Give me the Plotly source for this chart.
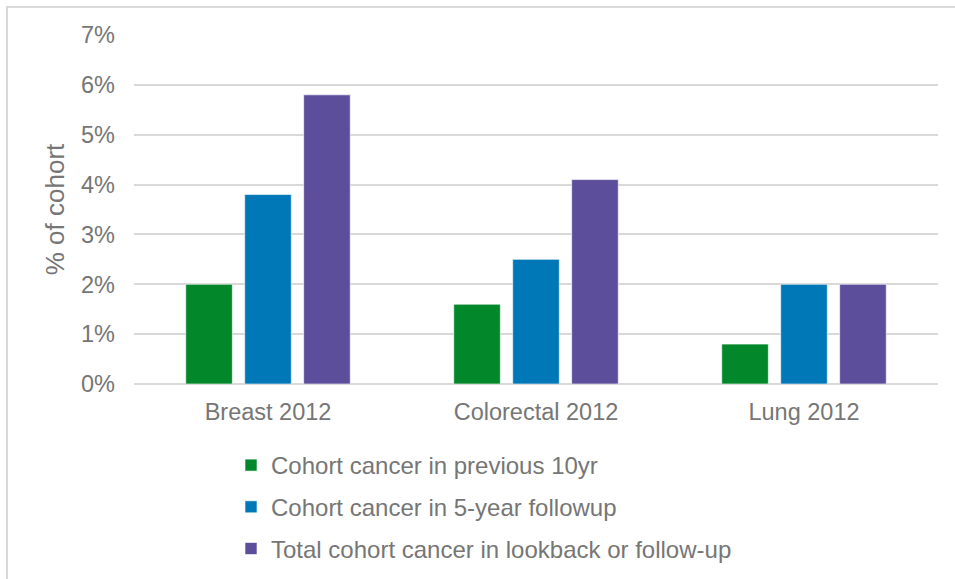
import plotly.graph_objects as go

# Cancer incidence by site, as a share of the cohort
categories = ["Breast 2012", "Colorectal 2012", "Lung 2012"]
prev_10yr = [2.0, 1.6, 0.8]
followup_5yr = [3.8, 2.5, 2.0]
total_lookback_followup = [5.8, 4.1, 2.0]

series_names = [
    "Cohort cancer in previous 10yr",
    "Cohort cancer in 5-year followup",
    "Total cohort cancer in lookback or follow-up",
]
series_values = [prev_10yr, followup_5yr, total_lookback_followup]
series_colors = ["#02872A", "#0077B6", "#5D4E9B"]

y_ticks = [0, 1, 2, 3, 4, 5, 6, 7]
y_tick_labels = ["0%", "1%", "2%", "3%", "4%", "5%", "6%", "7%"]

FONT = "Liberation Sans, Arial, sans-serif"
TEXT = "#767676"
GRID = "#D9D9D9"

W, H = 955, 579
L, R, T, B = 134, 17, 35, 195
plot_w = W - L - R
plot_h = H - T - B


def px_x(px):
    return (px - L) / plot_w


def px_y(py):
    return (H - B - py) / plot_h


fig = go.Figure()
for i, (name, vals, col) in enumerate(zip(series_names, series_values, series_colors)):
    fig.add_trace(go.Bar(
        x=categories,
        y=vals,
        name=name,
        legendgroup=f"g{i}",
        marker=dict(color=col, line=dict(color="rgba(255,255,255,0.6)", width=1)),
    ))

fig.update_layout(
    width=W,
    height=H,
    margin=dict(l=L, r=R, t=T, b=B, autoexpand=False),
    paper_bgcolor="white",
    plot_bgcolor="white",
    barmode="group",
    bargap=0.34,
    bargroupgap=0.21,
    font=dict(family=FONT, color=TEXT, size=23),
    showlegend=True,
    legend=dict(
        x=px_x(231),
        y=px_y(443),
        xanchor="left",
        yanchor="top",
        orientation="v",
        tracegroupgap=7.5,
        font=dict(family=FONT, color=TEXT, size=24),
        bgcolor="rgba(0,0,0,0)",
    ),
    xaxis=dict(
        showgrid=False,
        showline=False,
        ticks="",
        tickfont=dict(family=FONT, color=TEXT, size=23.5),
        ticklabelstandoff=11,
    ),
    yaxis=dict(
        range=[0, 7],
        tickmode="array",
        tickvals=y_ticks,
        ticktext=y_tick_labels,
        showgrid=True,
        gridcolor=GRID,
        gridwidth=1.5,
        zeroline=True,
        zerolinecolor=GRID,
        zerolinewidth=1.5,
        showline=False,
        ticks="",
        ticklabelstandoff=18,
        tickfont=dict(family=FONT, color=TEXT, size=23.5),
        title=dict(text="% of cohort", font=dict(family=FONT, color=TEXT, size=26), standoff=8),
    ),
    shapes=[
        dict(
            type="rect",
            xref="paper",
            yref="paper",
            x0=px_x(7),
            x1=px_x(970),
            y0=px_y(600),
            y1=px_y(7),
            line=dict(color=GRID, width=2),
            fillcolor="rgba(0,0,0,0)",
            layer="below",
        )
    ],
)

fig.write_html("out.html")
